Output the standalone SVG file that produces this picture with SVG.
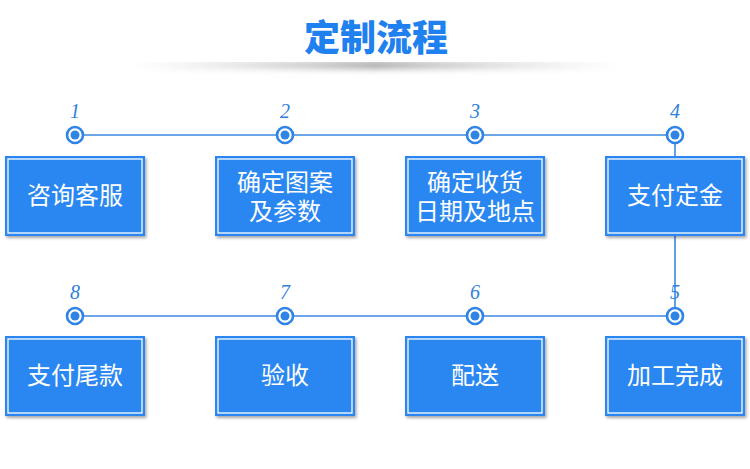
<svg xmlns="http://www.w3.org/2000/svg" width="750" height="469" viewBox="0 0 750 469">
<defs>
<style>
.box{fill:#2b87f2;}
.inner{fill:none;stroke:#ffffff;stroke-width:1.3;}
.lbl{font-family:"Noto Sans CJK SC","Noto Sans",sans-serif;font-size:24px;fill:#ffffff;text-anchor:middle;}
.num{font-family:"Liberation Serif",serif;font-style:italic;font-size:20px;fill:#2f7fdc;text-anchor:middle;}
.ln{stroke:#3b88e2;stroke-width:1.6;fill:none;}
.ring{fill:#ffffff;stroke:#2f84e6;stroke-width:2.6;}
.dot{fill:#2f84e6;}
</style>
<filter id="sh" x="-10%" y="-10%" width="125%" height="130%">
<feDropShadow dx="1.5" dy="2" stdDeviation="1.5" flood-color="#000" flood-opacity="0.35"/>
</filter>
<linearGradient id="tg" x1="0" x2="1" y1="0" y2="0">
<stop offset="0" stop-color="#bbb" stop-opacity="0"/>
<stop offset="0.5" stop-color="#888" stop-opacity="0.9"/>
<stop offset="1" stop-color="#bbb" stop-opacity="0"/>
</linearGradient>
<filter id="blur" x="-5%" y="-200%" width="110%" height="500%"><feGaussianBlur stdDeviation="0 3"/></filter>
</defs>
<rect width="750" height="469" fill="#ffffff"/>
<g id="title">
<rect x="130" y="61" width="490" height="8" fill="url(#tg)" filter="url(#blur)" opacity="0.8"/>
<rect x="120" y="50" width="510" height="12" fill="#ffffff"/>
<text x="376" y="51" font-family="Noto Sans CJK SC,sans-serif" font-weight="900" font-size="36" fill="#1f80f0" text-anchor="middle">定制流程</text>
</g>
<g id="connectors">
<line class="ln" x1="75" y1="135" x2="675" y2="135"/>
<line class="ln" x1="75" y1="316" x2="675" y2="316"/>
<line class="ln" x1="675" y1="135" x2="675" y2="316"/>
</g>
<g id="markers">
<g id="m1"><text class="num" x="75" y="118">1</text><circle class="ring" cx="75" cy="135" r="8"/><circle class="dot" cx="75" cy="135" r="4.5"/></g>
<g id="m2"><text class="num" x="285" y="118">2</text><circle class="ring" cx="285" cy="135" r="8"/><circle class="dot" cx="285" cy="135" r="4.5"/></g>
<g id="m3"><text class="num" x="475" y="118">3</text><circle class="ring" cx="475" cy="135" r="8"/><circle class="dot" cx="475" cy="135" r="4.5"/></g>
<g id="m4"><text class="num" x="675" y="118">4</text><circle class="ring" cx="675" cy="135" r="8"/><circle class="dot" cx="675" cy="135" r="4.5"/></g>
<g id="m8"><text class="num" x="75" y="299">8</text><circle class="ring" cx="75" cy="316" r="8"/><circle class="dot" cx="75" cy="316" r="4.5"/></g>
<g id="m7"><text class="num" x="285" y="299">7</text><circle class="ring" cx="285" cy="316" r="8"/><circle class="dot" cx="285" cy="316" r="4.5"/></g>
<g id="m6"><text class="num" x="475" y="299">6</text><circle class="ring" cx="475" cy="316" r="8"/><circle class="dot" cx="475" cy="316" r="4.5"/></g>
<g id="m5"><text class="num" x="675" y="299">5</text><circle class="ring" cx="675" cy="316" r="8"/><circle class="dot" cx="675" cy="316" r="4.5"/></g>
</g>
<g id="n1"><rect class="box" x="5" y="156" width="140" height="80" filter="url(#sh)"/><rect class="inner" x="8" y="159" width="134" height="74"/><text class="lbl" x="75" y="204">咨询客服</text></g>
<g id="n2"><rect class="box" x="215" y="156" width="140" height="80" filter="url(#sh)"/><rect class="inner" x="218" y="159" width="134" height="74"/><text class="lbl" x="285" y="191">确定图案</text><text class="lbl" x="285" y="220">及参数</text></g>
<g id="n3"><rect class="box" x="405" y="156" width="140" height="80" filter="url(#sh)"/><rect class="inner" x="408" y="159" width="134" height="74"/><text class="lbl" x="475" y="191">确定收货</text><text class="lbl" x="475" y="220">日期及地点</text></g>
<g id="n4"><rect class="box" x="605" y="156" width="140" height="80" filter="url(#sh)"/><rect class="inner" x="608" y="159" width="134" height="74"/><text class="lbl" x="675" y="204">支付定金</text></g>
<g id="n8"><rect class="box" x="5" y="336" width="140" height="80" filter="url(#sh)"/><rect class="inner" x="8" y="339" width="134" height="74"/><text class="lbl" x="75" y="384">支付尾款</text></g>
<g id="n7"><rect class="box" x="215" y="336" width="140" height="80" filter="url(#sh)"/><rect class="inner" x="218" y="339" width="134" height="74"/><text class="lbl" x="285" y="384">验收</text></g>
<g id="n6"><rect class="box" x="405" y="336" width="140" height="80" filter="url(#sh)"/><rect class="inner" x="408" y="339" width="134" height="74"/><text class="lbl" x="475" y="384">配送</text></g>
<g id="n5"><rect class="box" x="605" y="336" width="140" height="80" filter="url(#sh)"/><rect class="inner" x="608" y="339" width="134" height="74"/><text class="lbl" x="675" y="384">加工完成</text></g>
</svg>
